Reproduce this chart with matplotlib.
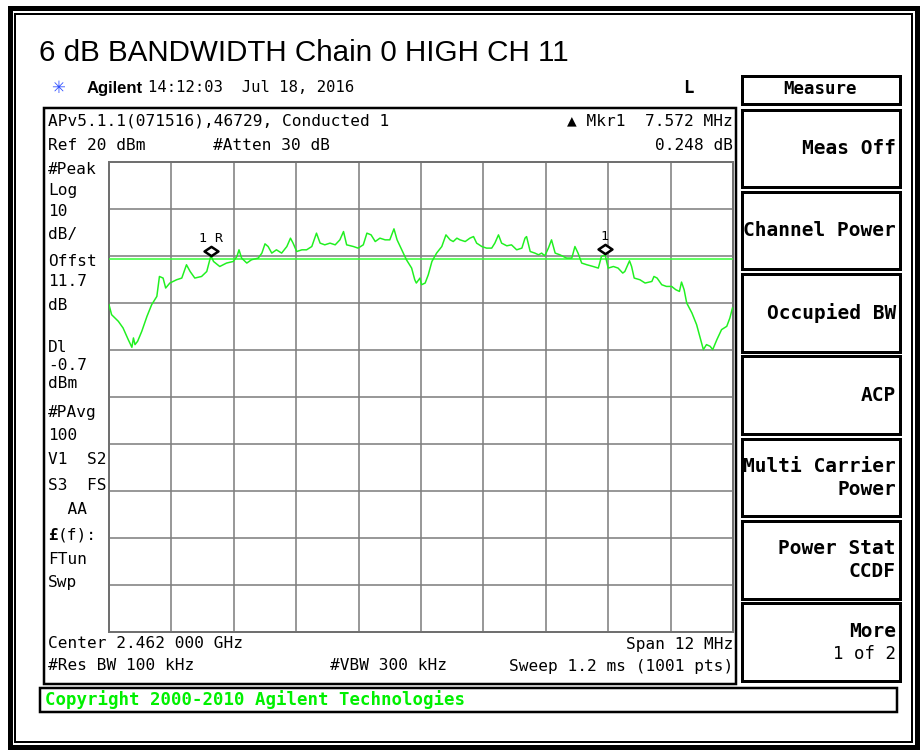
import matplotlib
matplotlib.use('Agg')
import matplotlib.pyplot as plt
from matplotlib.patches import Rectangle
from matplotlib.path import Path
import matplotlib.transforms as mtransforms

# ---------------- data ----------------
center_ghz = 2.462
span_mhz = 12.0
ref_dbm = 20.0
db_per_div = 10.0
display_line_dbm = -0.7

freq_offset_mhz = [
    -6.00, -5.95, -5.82, -5.73, -5.63, -5.56, -5.53, -5.50, -5.45, -5.37,
    -5.27, -5.18, -5.08, -5.03, -4.96, -4.91, -4.83, -4.70, -4.60, -4.51,
    -4.44, -4.35, -4.22, -4.12, -4.04, -3.99, -3.87, -3.74, -3.61, -3.54,
    -3.50, -3.45, -3.35, -3.26, -3.13, -3.06, -3.00, -2.94, -2.87, -2.78,
    -2.68, -2.58, -2.51, -2.46, -2.39, -2.29, -2.20, -2.10, -2.01, -1.94,
    -1.85, -1.75, -1.65, -1.56, -1.49, -1.43, -1.30, -1.21, -1.11, -1.04,
    -0.96, -0.88, -0.79, -0.69, -0.60, -0.52, -0.46, -0.34, -0.28, -0.18,
    -0.12, -0.09, -0.02, 0.01, 0.08, 0.14, 0.21, 0.30, 0.40, 0.48,
    0.56, 0.62, 0.69, 0.75, 0.85, 0.94, 1.01, 1.07, 1.17, 1.26,
    1.36, 1.42, 1.49, 1.55, 1.65, 1.74, 1.84, 1.94, 2.00, 2.03,
    2.10, 2.19, 2.26, 2.32, 2.38, 2.45, 2.51, 2.58, 2.67, 2.80,
    2.90, 2.96, 3.02, 3.09, 3.19, 3.31, 3.41, 3.47, 3.54, 3.60,
    3.70, 3.79, 3.88, 3.92, 4.01, 4.05, 4.10, 4.21, 4.31, 4.44,
    4.48, 4.54, 4.63, 4.72, 4.82, 4.90, 4.97, 5.01, 5.06, 5.11,
    5.21, 5.30, 5.37, 5.43, 5.49, 5.56, 5.61, 5.69, 5.78, 5.88,
    5.94, 5.99,
]
level_dbm = [
    -10.47, -12.59, -14.01, -15.41, -17.90, -19.53, -17.54, -18.96, -18.26, -16.14,
    -12.95, -10.47, -8.70, -4.46, -4.80, -6.92, -5.86, -5.16, -4.80, -1.97,
    -3.40, -4.80, -4.46, -3.40, 0.00, -1.27, -2.34, -1.61, -1.27, -0.21,
    1.21, -0.55, -1.61, -0.91, -0.55, 0.51, 2.48, 1.91, 0.51, 1.21,
    0.51, 1.91, 3.69, 2.63, 0.85, 1.21, 1.21, 1.91, 4.76, 2.63,
    2.27, 2.63, 2.27, 3.33, 5.10, 2.27, 1.91, 1.57, 2.27, 4.76,
    4.39, 2.97, 3.69, 3.33, 3.33, 5.67, 3.33, 0.51, -0.91, -2.68,
    -5.16, -5.86, -4.80, -6.22, -5.86, -4.10, -1.27, 0.51, 1.91, 4.39,
    3.33, 2.97, 3.69, 3.33, 2.97, 3.69, 4.03, 2.63, 1.91, 1.57,
    1.57, 2.63, 4.39, 2.63, 2.06, 2.27, 1.21, 1.57, 3.69, 4.03,
    0.85, 0.51, 0.15, 0.51, -0.06, 1.57, 3.33, 0.51, 0.15, -0.55,
    -0.55, 1.91, 0.51, -1.61, -1.97, -2.34, -2.68, -0.21, 0.15, -2.68,
    -2.34, -2.68, -3.74, -3.40, -1.13, -2.34, -4.80, -5.16, -5.86, -5.52,
    -4.46, -4.80, -6.22, -6.58, -6.58, -7.28, -7.64, -5.65, -7.28, -10.11,
    -12.23, -14.71, -17.54, -20.02, -18.96, -19.32, -20.02, -17.90, -15.77, -15.07,
    -13.29, -11.17,
]

marker_labels = ['1 R', '1']
marker_freq_mhz = [-4.04, 3.53]
marker_level_dbm = [0.0, 0.25]

left_labels = ['#Peak', 'Log', '10', 'dB/', 'Offst', '11.7', 'dB', 'Dl', '-0.7', 'dBm',
               '#PAvg', '100', 'V1  S2', 'S3  FS', '  AA', '(f):', 'FTun', 'Swp']
left_label_y = [170, 190, 211, 234, 262, 282, 305, 348, 365, 384,
                413, 436, 460, 485, 510, 535, 559, 583]

softkeys = [['Meas Off'], ['Channel Power'], ['Occupied BW'], ['ACP'],
            ['Multi Carrier', 'Power'], ['Power Stat', 'CCDF'], ['More', '1 of 2']]

# ---------------- figure ----------------
W, H = 923, 751
fig = plt.figure(figsize=(W / 100, H / 100), dpi=100)
fig.patch.set_facecolor('white')
bg = fig.add_axes([0, 0, 1, 1])
bg.set_xlim(0, W)
bg.set_ylim(H, 0)
bg.axis('off')

MONO = 'DejaVu Sans Mono'
PX = 0.72  # points per pixel


def txt(x, y, s, size=11.6, weight='normal', ha='left', color='black', family=MONO, **kw):
    bg.text(x, y, s, fontsize=size, fontweight=weight, ha=ha, va='center',
            color=color, family=family, **kw)


def rect(x0, y0, x1, y1, lw, color='black'):
    bg.add_patch(Rectangle((x0, y0), x1 - x0, y1 - y0, fill=False,
                           linewidth=lw * PX, edgecolor=color, joinstyle='miter'))


# outer frame
rect(9.5, 7.5, 916.5, 746.5, 5)
rect(14.5, 13.5, 911.5, 741.5, 2)

# title
bg.text(39, 61, '6 dB BANDWIDTH Chain 0 HIGH CH 11', fontsize=21.3,
        family='Liberation Sans', ha='left', va='baseline')

# Agilent header line
txt(58, 88, '\u2733', size=12, color='#3050ff', family='DejaVu Sans', ha='center')
bg.text(87, 88, 'Agilent', fontsize=12, fontweight='bold', family='Liberation Sans',
        ha='left', va='center')
txt(148, 88, '14:12:03  Jul 18, 2016', size=11.2)
txt(688, 88, 'L', size=12.5, weight='bold', ha='center')

# instrument display panel
rect(44, 107.5, 736, 684, 2.5)
txt(48, 121, 'APv5.1.1(071516),46729, Conducted 1')
txt(48, 145, 'Ref 20 dBm')
txt(213, 145, '#Atten 30 dB')
txt(733, 121, '\u25b2 Mkr1  7.572 MHz', ha='right')
txt(733, 145, '0.248 dB', ha='right')

for lab, yy in zip(left_labels, left_label_y):
    if lab == '(f):':
        bg.text(48, yy, '\u00a3', fontsize=11.6, fontweight='bold', family=MONO,
                ha='left', va='center')
        txt(58, yy, lab)
    else:
        txt(48, yy, lab)

txt(48, 644, 'Center 2.462 000 GHz')
txt(733, 644, 'Span 12 MHz', ha='right')
txt(48, 666, '#Res BW 100 kHz')
txt(330, 666, '#VBW 300 kHz')
txt(733, 666, 'Sweep 1.2 ms (1001 pts)', ha='right')

# copyright bar
rect(40, 688, 897, 712, 2.5)
txt(45, 700, 'Copyright 2000-2010 Agilent Technologies', size=12.5, weight='bold',
    color='#00f000')

# softkey panel
rect(741.5, 75.5, 900, 104, 3)
txt(820, 89, 'Measure', size=12.5, weight='bold', ha='center')
box_top = 109.5
box_step = 82.3
box_h = 77.5
for i, lines in enumerate(softkeys):
    y0 = box_top + i * box_step
    rect(741.5, y0, 900, y0 + box_h, 3)
    yc = y0 + box_h / 2
    if len(lines) == 1:
        txt(896, yc, lines[0], size=14, weight='bold', ha='right')
    else:
        txt(896, yc - 11, lines[0], size=14, weight='bold', ha='right')
        txt(896, yc + 12, lines[1], size=14 if lines[1] != '1 of 2' else 12.5,
            weight='bold' if lines[1] != '1 of 2' else 'normal', ha='right')

# ---------------- graticule ----------------
gl, gr, gt, gb = 109, 733, 161.5, 631.5
ax = fig.add_axes([gl / W, (H - gb) / H, (gr - gl) / W, (gb - gt) / H])
ax.set_facecolor('white')
half = span_mhz / 2
bottom_dbm = ref_dbm - 10 * db_per_div
ax.set_xlim(-half, half)
ax.set_ylim(bottom_dbm, ref_dbm)
ax.set_xticks([-half + i * span_mhz / 10 for i in range(11)])
ax.set_yticks([bottom_dbm + i * db_per_div for i in range(11)])
ax.tick_params(length=0, labelbottom=False, labelleft=False)
ax.grid(True, color='#808080', linewidth=1.6 * PX)
for s in ax.spines.values():
    s.set_color('#707070')
    s.set_linewidth(2 * PX)

ax.axhline(display_line_dbm, color='#30ff30', linewidth=1.5 * PX, zorder=3)
ax.plot(freq_offset_mhz, level_dbm, color='#20f020', linewidth=1.5 * PX, zorder=4)

diamond = Path([(-1.35, 0), (0, 0.9), (1.35, 0), (0, -0.9), (-1.35, 0)],
               [Path.MOVETO, Path.LINETO, Path.LINETO, Path.LINETO, Path.CLOSEPOLY])
for lab, fx, ly in zip(marker_labels, marker_freq_mhz, marker_level_dbm):
    tr = mtransforms.offset_copy(ax.transData, fig=fig, x=0, y=3.5, units='points')
    ax.plot([fx], [ly], marker=diamond, markersize=10, markerfacecolor='white',
            markeredgecolor='black', markeredgewidth=1.8, transform=tr, zorder=6,
            clip_on=False)
    tr2 = mtransforms.offset_copy(ax.transData, fig=fig, x=0, y=12.5, units='points')
    ax.text(fx, ly, lab, transform=tr2, fontsize=9.5, family=MONO, ha='center',
            va='center', zorder=6)

fig.savefig('out.png', dpi=100)
